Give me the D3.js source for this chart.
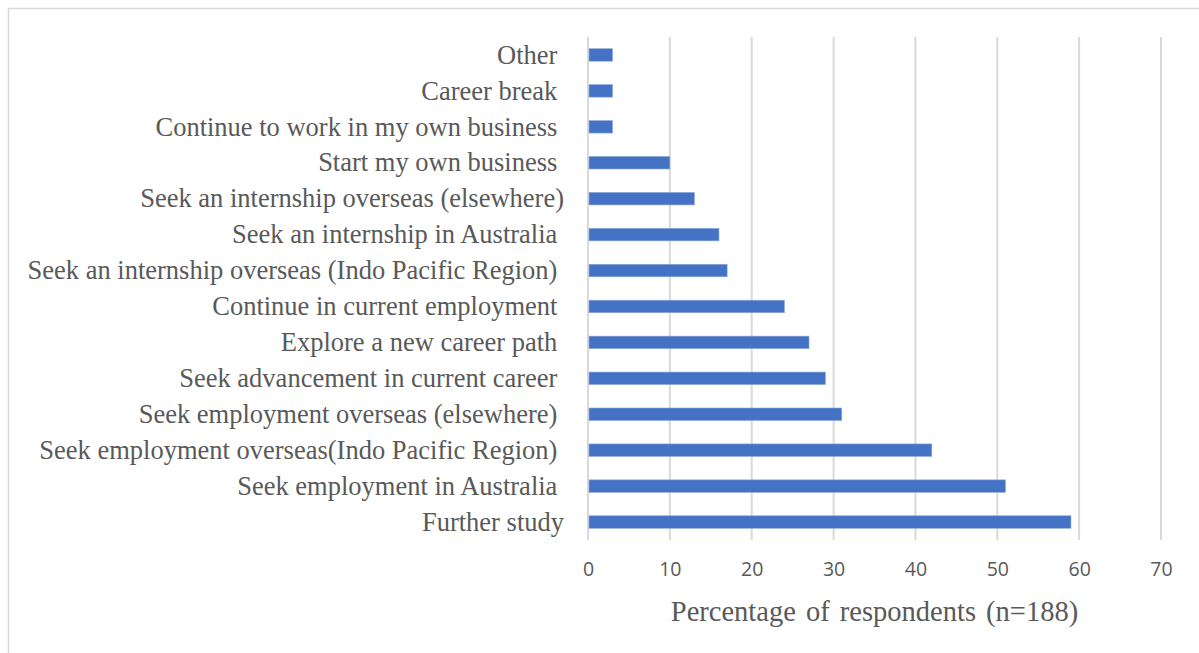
<!DOCTYPE html>
<html>
<head>
<meta charset="utf-8">
<script src="https://cdn.jsdelivr.net/npm/d3@7"></script>
<style>
  html, body { margin: 0; padding: 0; background: #fff; }
  svg { display: block; }
  .cat { white-space: pre; }
</style>
</head>
<body>
<svg id="chart" width="1199" height="653"></svg>
<script>
// Post-course plans, top row first
const categories = [
  "Other ",
  "Career break ",
  "Continue to work in my own business ",
  "Start my own business ",
  "Seek an internship overseas (elsewhere)",
  "Seek an internship in Australia ",
  "Seek an internship overseas (Indo Pacific Region) ",
  "Continue in current employment ",
  "Explore a new career path ",
  "Seek advancement in current career ",
  "Seek employment overseas (elsewhere) ",
  "Seek employment overseas(Indo Pacific Region) ",
  "Seek employment in Australia ",
  "Further study"
];
const percentages = [3, 3, 3, 10, 13, 16, 17, 24, 27, 29, 31, 42, 51, 59];
const xTicks = [0, 10, 20, 30, 40, 50, 60, 70];
const axisTitle = "Percentage of respondents (n=188)";

const svg = d3.select("#chart");
const W = 1199, H = 653;
const plot = { left: 588, right: 1161, top: 37, bottom: 540 };

// outer chart frame
svg.append("rect")
  .attr("x", 8.5).attr("y", 8.5)
  .attr("width", W + 20).attr("height", H + 20)
  .attr("fill", "#fff")
  .attr("stroke", "#d9d9d9").attr("stroke-width", 1.5);

const x = d3.scaleLinear().domain([0, 70]).range([plot.left, plot.right]);
const pad = 0.652;
const y = d3.scaleBand().domain(categories)
  .range([plot.top, plot.bottom])
  .paddingInner(pad).paddingOuter(pad / 2);

// vertical gridlines
svg.append("g").selectAll("line").data(xTicks).join("line")
  .attr("x1", d => x(d)).attr("x2", d => x(d))
  .attr("y1", plot.top).attr("y2", plot.bottom)
  .attr("stroke", "#d9d9d9").attr("stroke-width", 2);

// bars
svg.append("g").selectAll("rect").data(categories).join("rect")
  .attr("x", x(0) + 1)
  .attr("y", d => y(d))
  .attr("width", (d, i) => x(percentages[i]) - x(0) - 1)
  .attr("height", y.bandwidth())
  .attr("fill", "#4472c4")
  .attr("stroke", "#8eaadb").attr("stroke-width", 0.6);

// category labels
svg.append("g").selectAll("text").data(categories).join("text")
  .attr("class", "cat")
  .attr("x", plot.left - 24)
  .attr("y", d => y(d) + y.bandwidth() / 2)
  .attr("dy", "0.33em")
  .attr("text-anchor", "end")
  .attr("font-family", "'Liberation Serif', 'Times New Roman', serif")
  .attr("font-size", 26.5)
  .attr("fill", "#595959")
  .text(d => d);

// x-axis tick labels
const xAxis = d3.axisBottom(x).tickValues(xTicks).tickSize(0).tickPadding(0);
const gx = svg.append("g").attr("transform", `translate(0, ${plot.bottom + 22})`).call(xAxis);
gx.select(".domain").remove();
gx.selectAll("text")
  .attr("font-family", "'Open Sans', sans-serif")
  .attr("font-size", 19.5)
  .attr("fill", "#595959")
  .attr("dy", "0.71em");

// axis title
svg.append("text")
  .attr("x", (plot.left + plot.right) / 2)
  .attr("y", 621)
  .attr("text-anchor", "middle")
  .attr("font-family", "'Liberation Serif', 'Times New Roman', serif")
  .attr("font-size", 28.5)
  .attr("word-spacing", 3)
  .attr("fill", "#595959")
  .text(axisTitle);
</script>
</body>
</html>
